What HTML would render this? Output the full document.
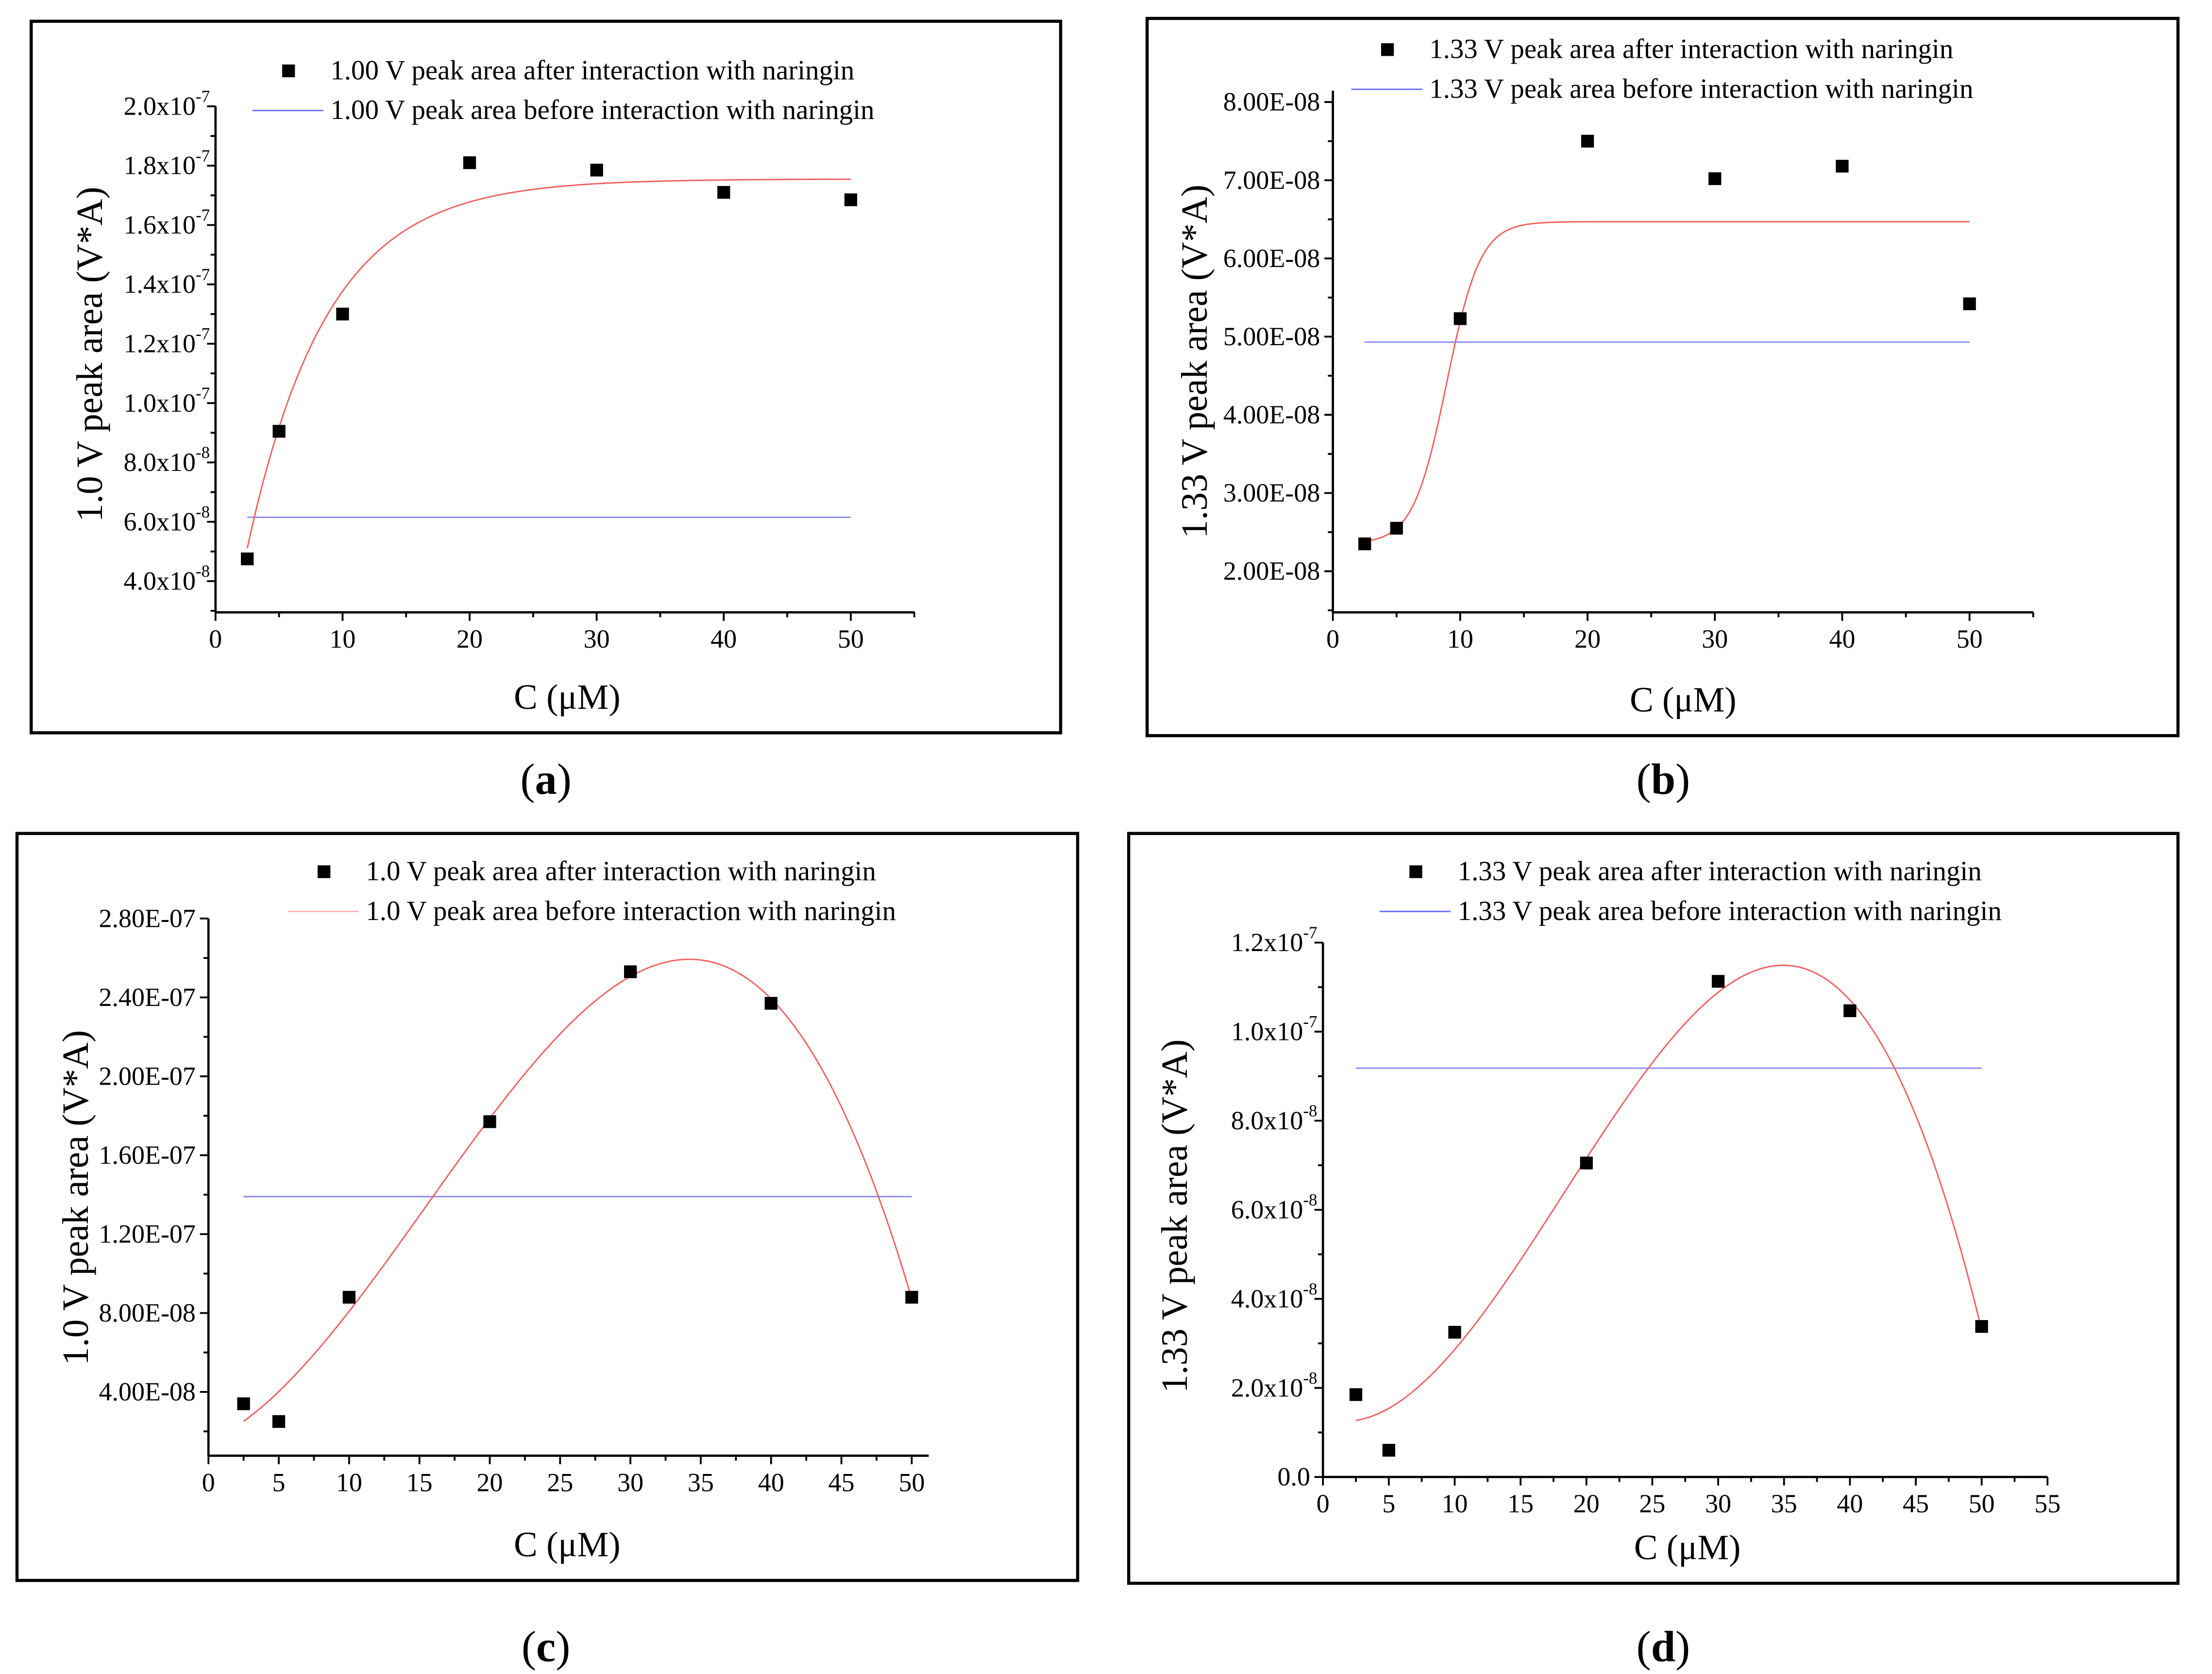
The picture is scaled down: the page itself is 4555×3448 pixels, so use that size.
<!DOCTYPE html>
<html><head><meta charset="utf-8"><style>
html,body{margin:0;padding:0;background:#fff;}
svg{display:block;}
svg text{font-family:"Liberation Serif","DejaVu Serif",serif;fill:#000;}
</style></head><body>
<svg id="fig" xmlns="http://www.w3.org/2000/svg" width="4555" height="3448" viewBox="0 0 1560 1181" preserveAspectRatio="none" font-family="Liberation Serif, DejaVu Serif, serif"></svg>
<script>
// ---- data ----
const concA = [2.5,5,10,20,30,40,50];
const valsA = [4.75e-8,9.05e-8,1.30e-7,1.81e-7,1.785e-7,1.71e-7,1.685e-7];
const baseA = 6.15e-8;
const fitA = [1.755e-7,1.85e-7,6.3]; // A - B*exp(-x/t)

const concB = [2.5,5,10,20,30,40,50];
const valsB = [2.35e-8,2.55e-8,5.23e-8,7.5e-8,7.02e-8,7.18e-8,5.42e-8];
const baseB = 4.93e-8;
const fitB = [2.35e-8,6.47e-8,8.94,1.32]; // Boltzmann

const concC = [2.5,5,10,20,30,40,50];
const valsC = [3.4e-8,2.5e-8,8.8e-8,1.77e-7,2.53e-7,2.37e-7,8.8e-8];
const baseC = 1.39e-7;

const concD = [2.5,5,10,20,30,40,50];
const valsD = [1.85e-8,0.6e-8,3.25e-8,7.05e-8,1.113e-7,1.047e-7,3.38e-8];
const baseD = 9.18e-8;

const ticksA = [4e-8,6e-8,8e-8,1e-7,1.2e-7,1.4e-7,1.6e-7,1.8e-7,2e-7];
const labelsA = [["4.0x10","-8"],["6.0x10","-8"],["8.0x10","-8"],["1.0x10","-7"],["1.2x10","-7"],["1.4x10","-7"],["1.6x10","-7"],["1.8x10","-7"],["2.0x10","-7"]];
const ticksB = [2e-8,3e-8,4e-8,5e-8,6e-8,7e-8,8e-8];
const labelsB = ["2.00E-08","3.00E-08","4.00E-08","5.00E-08","6.00E-08","7.00E-08","8.00E-08"];
const ticksC = [4e-8,8e-8,1.2e-7,1.6e-7,2e-7,2.4e-7,2.8e-7];
const labelsC = ["4.00E-08","8.00E-08","1.20E-07","1.60E-07","2.00E-07","2.40E-07","2.80E-07"];
const ticksD = [0,2e-8,4e-8,6e-8,8e-8,1e-7,1.2e-7];
const labelsD = [["0.0",""],["2.0x10","-8"],["4.0x10","-8"],["6.0x10","-8"],["8.0x10","-8"],["1.0x10","-7"],["1.2x10","-7"]];

const NS="http://www.w3.org/2000/svg";
const FF='"Liberation Serif","DejaVu Serif",serif';
const svg=document.getElementById('fig');
function mk(tag,attrs,parent,txt){const e=document.createElementNS(NS,tag);for(const k in attrs)e.setAttribute(k,attrs[k]);if(tag==='text')e.style.fontFamily=FF;if(txt!==undefined)e.textContent=txt;(parent||svg).appendChild(e);return e;}

function cubicFit(xs,ys){
  const n=4,M=[];for(let i=0;i<n;i++){M.push(new Array(n+1).fill(0));}
  for(let k=0;k<xs.length;k++){const x=xs[k]/50,y=ys[k]*1e8;
    for(let i=0;i<n;i++){for(let j=0;j<n;j++)M[i][j]+=Math.pow(x,i+j);M[i][n]+=y*Math.pow(x,i);}}
  for(let i=0;i<n;i++){let p=i;for(let r=i+1;r<n;r++)if(Math.abs(M[r][i])>Math.abs(M[p][i]))p=r;[M[i],M[p]]=[M[p],M[i]];
    for(let r=0;r<n;r++){if(r===i)continue;const f=M[r][i]/M[i][i];for(let c=i;c<=n;c++)M[r][c]-=f*M[i][c];}}
  const co=M.map((r,i)=>r[n]/r[i]);
  return x=>{const u=x/50;return (co[0]+co[1]*u+co[2]*u*u+co[3]*u*u*u)*1e-8;};
}

function panel(p){
  const g=mk('g',{});
  
  
  const fr=mk('rect',{x:p.box[0],y:p.box[1],width:p.box[2]-p.box[0],height:p.box[3]-p.box[1],fill:'none',stroke:'#000','stroke-width':2.2},g);
  
  const X=v=>p.xp[0]+(v-p.xd[0])*(p.xp[1]-p.xp[0])/(p.xd[1]-p.xd[0]);
  const Y=v=>p.yp[0]+(v-p.yd[0])*(p.yp[1]-p.yp[0])/(p.yd[1]-p.yd[0]);
  const ax=mk('g',{},g);
  const xa=mk('line',{x1:X(0),y1:p.axY,x2:p.axXend,y2:p.axY,stroke:'#000','stroke-width':1.6},ax);
  
  const ya=mk('line',{x1:X(0),y1:p.axY,x2:X(0),y2:p.axYtop,stroke:'#000','stroke-width':1.6},ax);
  
  for(let v=0;v<=p.xmax+1e-9;v+=p.xminor){
    const maj=Math.abs(v/p.xmajor-Math.round(v/p.xmajor))<1e-6;
    mk('line',{x1:X(v),y1:p.axY,x2:X(v),y2:p.axY+(maj?6:3.5),stroke:'#000','stroke-width':1.3},ax);
    if(maj){const t=mk('text',{x:X(v),y:p.axY+25,'text-anchor':'middle','font-size':18.5},ax,String(Math.round(v)));
      }
  }
  for(let i=0;i<p.yt.length;i++){
    const y=Y(p.yt[i]);
    mk('line',{x1:X(0),y1:y,x2:X(0)-6,y2:y,stroke:'#000','stroke-width':1.3},ax);
    const t=mk('text',{x:X(0)-9,y:y+6,'text-anchor':'end','font-size':18.5},ax);
    
    if(p.sup){const l=p.yl[i];mk('tspan',{},t,l[0]);if(l[1]){mk('tspan',{'font-size':12,dy:-9},t,l[1]);} t.setAttribute('x',X(0)-4-(l[1]?0:5));}
    else t.textContent=p.yl[i];
  }
  for(const m of p.yminor){const y=Y(m);mk('line',{x1:X(0),y1:y,x2:X(0)-3.5,y2:y,stroke:'#000','stroke-width':1.3},ax);}
  const xt=mk('text',{x:p.xtPos[0],y:p.xtPos[1],'text-anchor':'middle','font-size':25},g,'C (\u03bcM)');
  
  const yt=mk('text',{x:0,y:0,'text-anchor':'middle','font-size':26,transform:`translate(${p.ytPos[0]},${p.ytPos[1]}) rotate(-90)`},g,p.ytitle);
  
  const bl=mk('line',{x1:X(2.5),y1:Y(p.base),x2:X(50),y2:Y(p.base),stroke:'#8a8aee','stroke-width':1},g);
  
  let d='';for(let i=0;i<=200;i++){const x=2.5+47.5*i/200;d+=(i?'L':'M')+X(x).toFixed(2)+' '+Y(p.fit(x)).toFixed(2);}
  const fp=mk('path',{d:d,fill:'none',stroke:'#f06060','stroke-width':1},g);
  
  for(let i=0;i<p.cx.length;i++){
    const r=mk('rect',{x:X(p.cx[i])-4.5,y:Y(p.cy[i])-4.5,width:9,height:9,fill:'#000'},g);
    
  }
  const lg=mk('g',{},g);
  const [lx,ly]=p.leg;
  const s1=mk('rect',{x:lx+21,y:ly-4.5,width:9,height:9,fill:'#000'},lg);
  
  const t1=mk('text',{x:lx+55,y:ly+6,'font-size':19.5},lg,p.legT[0]);
  
  const l2=mk('line',{x1:lx,y1:ly+28,x2:lx+50,y2:ly+28,stroke:p.legC,'stroke-width':1},lg);
  
  const t2=mk('text',{x:lx+55,y:ly+34,'font-size':19.5},lg,p.legT[1]);
  
  const cap=mk('text',{x:p.cap[0],y:p.cap[1],'text-anchor':'middle','font-size':31},g);
  
  mk('tspan',{},cap,'(');mk('tspan',{'font-weight':'bold'},cap,p.id);mk('tspan',{},cap,')');
}
function range(a,b,s){const r=[];for(let v=a;v<=b+s*1e-6;v+=s)r.push(v);return r;}

panel({id:'a',box:[22,15,748,517],xd:[0,50],xp:[152,600],yd:[4e-8,2e-7],yp:[410,75],axY:432,axXend:645,axYtop:75,
  xmax:55,xmajor:10,xminor:5,yt:ticksA,yl:labelsA,sup:true,yminor:range(3e-8,1.9e-7,2e-8),
  xtPos:[400,500],ytPos:[72,250],ytitle:'1.0 V peak area (V*A)',base:baseA,
  fit:x=>fitA[0]-fitA[1]*Math.exp(-x/fitA[2]),cx:concA,cy:valsA,leg:[178,50],legC:'#6a6aff',
  legT:['1.00 V peak area after interaction with naringin','1.00 V peak area before interaction with naringin'],cap:[385,560]});

panel({id:'b',box:[809,13,1536,519],xd:[0,50],xp:[940,1389],yd:[2e-8,8e-8],yp:[403,72],axY:432,axXend:1434,axYtop:64,
  xmax:55,xmajor:10,xminor:5,yt:ticksB,yl:labelsB,sup:false,yminor:range(1.5e-8,7.5e-8,1e-8),
  xtPos:[1187,502],ytPos:[851,255],ytitle:'1.33 V peak area (V*A)',base:baseB,
  fit:x=>fitB[0]+(fitB[1]-fitB[0])/(1+Math.exp((fitB[2]-x)/fitB[3])),cx:concB,cy:valsB,leg:[953,35],legC:'#6a6aff',
  legT:['1.33 V peak area after interaction with naringin','1.33 V peak area before interaction with naringin'],cap:[1173,560]});

panel({id:'c',box:[12,588,760,1115],xd:[0,50],xp:[147,643],yd:[4e-8,2.8e-7],yp:[982,648],axY:1027,axXend:655,axYtop:648,
  xmax:50,xmajor:5,xminor:2.5,yt:ticksC,yl:labelsC,sup:false,yminor:range(2e-8,2.6e-7,4e-8),
  xtPos:[400,1098],ytPos:[62,845],ytitle:'1.0 V peak area (V*A)',base:baseC,
  fit:cubicFit(concC,valsC),cx:concC,cy:valsC,leg:[203,615],legC:'#ffb0b0',
  legT:['1.0 V peak area after interaction with naringin','1.0 V peak area before interaction with naringin'],cap:[385,1172]});

panel({id:'d',box:[796,588,1536,1117],xd:[0,55],xp:[933,1444],yd:[0,1.2e-7],yp:[1042,665],axY:1042,axXend:1444,axYtop:665,
  xmax:55,xmajor:5,xminor:2.5,yt:ticksD,yl:labelsD,sup:true,yminor:range(1e-8,1.1e-7,2e-8),
  xtPos:[1190,1100],ytPos:[837,858],ytitle:'1.33 V peak area (V*A)',base:baseD,
  fit:cubicFit(concD,valsD),cx:concD,cy:valsD,leg:[973,615],legC:'#6a6aff',
  legT:['1.33 V peak area after interaction with naringin','1.33 V peak area before interaction with naringin'],cap:[1173,1172]});
</script>
</body></html>
